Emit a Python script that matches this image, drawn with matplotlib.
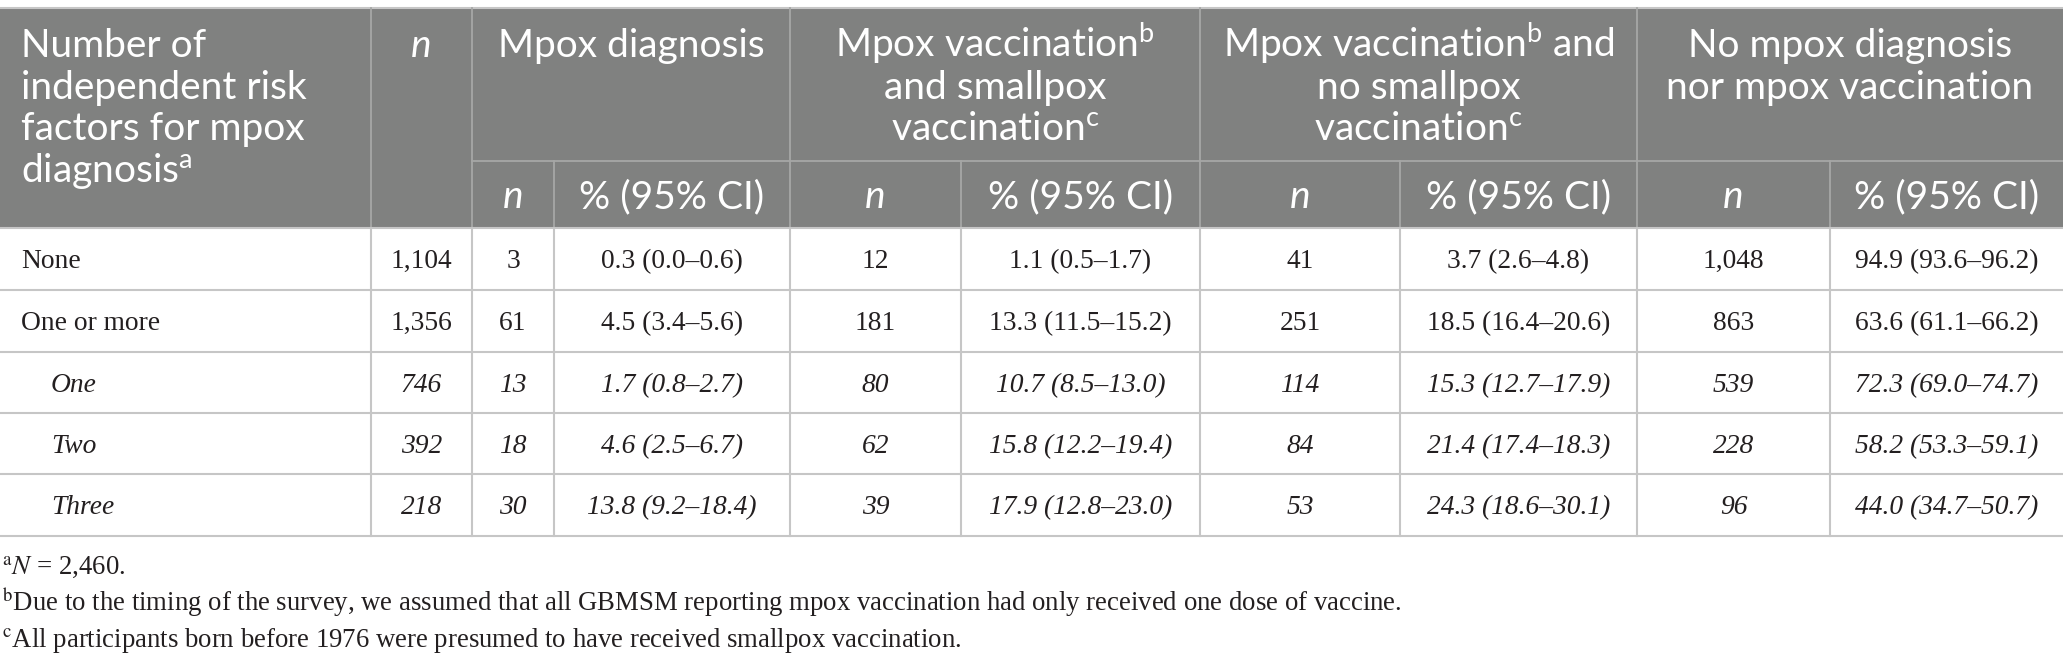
import matplotlib
matplotlib.use("Agg")
import matplotlib.pyplot as plt

# ---------------- data ----------------
categories = ["None", "One or more", "One", "Two", "Three"]
italic_rows = [False, False, True, True, True]
total_n = [1104, 1356, 746, 392, 218]

diag_n = [3, 61, 13, 18, 30]
diag_pct = [0.3, 4.5, 1.7, 4.6, 13.8]
diag_lo = [0.0, 3.4, 0.8, 2.5, 9.2]
diag_hi = [0.6, 5.6, 2.7, 6.7, 18.4]

vsp_n = [12, 181, 80, 62, 39]
vsp_pct = [1.1, 13.3, 10.7, 15.8, 17.9]
vsp_lo = [0.5, 11.5, 8.5, 12.2, 12.8]
vsp_hi = [1.7, 15.2, 13.0, 19.4, 23.0]

vnosp_n = [41, 251, 114, 84, 53]
vnosp_pct = [3.7, 18.5, 15.3, 21.4, 24.3]
vnosp_lo = [2.6, 16.4, 12.7, 17.4, 18.6]
vnosp_hi = [4.8, 20.6, 17.9, 18.3, 30.1]

none_n = [1048, 863, 539, 228, 96]
none_pct = [94.9, 63.6, 72.3, 58.2, 44.0]
none_lo = [93.6, 61.1, 69.0, 53.3, 34.7]
none_hi = [96.2, 66.2, 74.7, 59.1, 50.7]

first_header = ["Number of", "independent risk", "factors for mpox", r"diagnosis$^{\mathrm{a}}$"]
group_headers = [
    ["Mpox diagnosis"],
    [r"Mpox vaccination$^{\mathrm{b}}$", "and smallpox", r"vaccination$^{\mathrm{c}}$"],
    [r"Mpox vaccination$^{\mathrm{b}}$ and", "no smallpox", r"vaccination$^{\mathrm{c}}$"],
    ["No mpox diagnosis", "nor mpox vaccination"],
]
sub_headers = ["n", "% (95% CI)"]
footnotes = [
    r"$^{\mathrm{a}}\mathit{N}$ = 2,460.",
    r"$^{\mathrm{b}}$Due to the timing of the survey, we assumed that all GBMSM reporting mpox vaccination had only received one dose of vaccine.",
    r"$^{\mathrm{c}}$All participants born before 1976 were presumed to have received smallpox vaccination.",
]

# ---------------- layout ----------------
W, H = 2063, 667
plt.rcParams["mathtext.fontset"] = "custom"
plt.rcParams["mathtext.rm"] = "Lato"
plt.rcParams["mathtext.it"] = "Lato:italic"

fig = plt.figure(figsize=(W / 100, H / 100), dpi=100)
ax = fig.add_axes([0, 0, 1, 1])
ax.set_xlim(0, W)
ax.set_ylim(H, 0)
ax.axis("off")
renderer = fig.canvas.get_renderer()

HEAD_FONT = "Lato"
BODY_FONT = "Liberation Serif"
HEAD_BG = "#808180"
HEAD_LINE = "#a6a7a6"
BODY_LINE = "#c6c6c6"
TXT = "#231f20"


def fit(text, target, family, style="normal", base=20.0):
    t = ax.text(0, 0, text, fontsize=base, family=family, style=style)
    w = t.get_window_extent(renderer).width
    t.remove()
    return base * target / w


fs_head = fit("Mpox diagnosis", 267, HEAD_FONT)
fs_body = fit("0.3 (0.0\u20130.6)", 142, BODY_FONT)
fs_foot = fit("All participants born before 1976 were presumed to have received smallpox vaccination.",
              949, BODY_FONT)

edges = [0, 371, 472, 554, 790, 961, 1200, 1400, 1637, 1830, W]
group_edges = [472, 790, 1200, 1637, W]
top, sub_y, head_bot = 8, 161, 228
row_lines = [228, 290, 352, 413, 474, 536]

# header background
ax.add_patch(plt.Rectangle((0, top), W, head_bot - top, color=HEAD_BG, lw=0, zorder=0))
ax.plot([0, W], [top, top], color=BODY_LINE, lw=1.5)
# header lines
for x in [371, 472] + group_edges[1:-1]:
    ax.plot([x, x], [top, head_bot], color=HEAD_LINE, lw=1.3)
for x in [554, 961, 1400, 1830]:
    ax.plot([x, x], [sub_y, head_bot], color=HEAD_LINE, lw=1.3)
ax.plot([472, W], [sub_y, sub_y], color=HEAD_LINE, lw=1.3)

# body lines
for y in row_lines:
    ax.plot([0, W], [y, y], color=BODY_LINE, lw=1.5)
for x in edges[1:-1]:
    ax.plot([x, x], [head_bot, row_lines[-1]], color=BODY_LINE, lw=1.5)

# header text
line_base = [57, 98.5, 140, 182]
for i, s in enumerate(first_header):
    ax.text(21, line_base[i], s, fontsize=fs_head, family=HEAD_FONT, color="white",
            ha="left", va="baseline", math_fontfamily="custom")
ax.text((371 + 472) / 2, line_base[0], "n", fontsize=fs_head, family=HEAD_FONT,
        style="italic", color="white", ha="center", va="baseline")
for g, lines in enumerate(group_headers):
    cx = (group_edges[g] + group_edges[g + 1]) / 2
    for i, s in enumerate(lines):
        ax.text(cx, line_base[i], s, fontsize=fs_head, family=HEAD_FONT, color="white",
                ha="center", va="baseline", math_fontfamily="custom")
sub_base = 208
for c in range(2, 10):
    cx = (edges[c] + edges[c + 1]) / 2
    is_n = (c % 2 == 0)
    ax.text(cx, sub_base, sub_headers[0] if is_n else sub_headers[1], fontsize=fs_head,
            family=HEAD_FONT, style="italic" if is_n else "normal", color="white",
            ha="center", va="baseline")

# body text
def ci(p, lo, hi):
    return f"{p:.1f} ({lo:.1f}\u2013{hi:.1f})"

for r in range(len(categories)):
    yb = row_lines[r] + 40
    st = "italic" if italic_rows[r] else "normal"
    ax.text(51 if italic_rows[r] else 21, yb, categories[r], fontsize=fs_body, family=BODY_FONT,
            style=st, color=TXT, ha="left", va="baseline")
    cells = [
        f"{total_n[r]:,}",
        f"{diag_n[r]:,}", ci(diag_pct[r], diag_lo[r], diag_hi[r]),
        f"{vsp_n[r]:,}", ci(vsp_pct[r], vsp_lo[r], vsp_hi[r]),
        f"{vnosp_n[r]:,}", ci(vnosp_pct[r], vnosp_lo[r], vnosp_hi[r]),
        f"{none_n[r]:,}", ci(none_pct[r], none_lo[r], none_hi[r]),
    ]
    for c, s in enumerate(cells):
        cx = (edges[c + 1] + edges[c + 2]) / 2
        ax.text(cx, yb, s, fontsize=fs_body, family=BODY_FONT, style=st, color=TXT,
                ha="center", va="baseline")

# footnotes
foot_base = [574, 611, 647]
for i, s in enumerate(footnotes):
    ax.text(2, foot_base[i], s, fontsize=fs_foot, family=BODY_FONT, color=TXT,
            ha="left", va="baseline", math_fontfamily="stix")

fig.savefig("out.png", dpi=100)
